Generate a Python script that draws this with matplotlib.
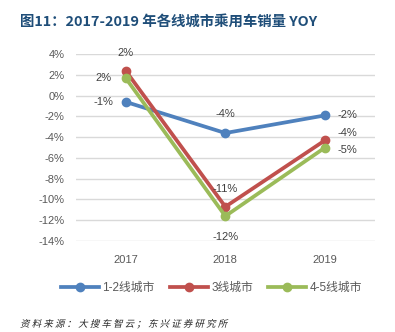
import matplotlib.pyplot as plt
from matplotlib.font_manager import FontProperties
from matplotlib.patches import PathPatch
from matplotlib.textpath import TextPath
from matplotlib.transforms import Affine2D, IdentityTransform

plt.rcParams['font.family'] = ['Liberation Sans', 'Noto Sans CJK SC', 'DejaVu Sans']

years = ['2017', '2018', '2019']
series_names = ['1-2线城市', '3线城市', '4-5线城市']
tier12 = [-0.6, -3.6, -1.9]
tier3 = [2.4, -10.7, -4.3]
tier45 = [1.7, -11.6, -5.0]
y_ticks = [4, 2, 0, -2, -4, -6, -8, -10, -12, -14]
source = '资料来源：大搜车智云；东兴证券研究所'

colors = ['#4F81BD', '#C0504D', '#9BBB59']
# label offsets (points) per series, per year
offsets = [
    [(-16, 0), (0, 14), (16, 0)],
    [(0, 13), (0, 13), (16, 5)],
    [(-16, 0), (0, -15), (16, -2)],
]

fig = plt.figure(figsize=(3.95, 3.32), dpi=100)
ax = fig.add_axes([0.192, 0.274, 0.757, 0.563])

x = list(range(len(years)))
for vals, name, c, offs in zip([tier12, tier3, tier45], series_names, colors, offsets):
    ax.plot(x, vals, color=c, lw=2.7, marker='o', ms=6, label=name, zorder=3)
    for xi, v, (dx, dy) in zip(x, vals, offs):
        ax.annotate(f'{v:.0f}%', (xi, v), xytext=(dx, dy), textcoords='offset points',
                    ha='center', va='center', fontsize=8, color='#404040', zorder=4)

ax.set_xlim(-0.5, 2.5)
ax.set_ylim(-14, 4)
ax.set_yticks(y_ticks)
ax.set_yticklabels([f'{t}%' for t in y_ticks])
ax.set_xticks(x)
ax.set_xticklabels(years)
ax.grid(axis='y', color='#D9D9D9', lw=1)
ax.set_axisbelow(True)
for s in ax.spines.values():
    s.set_visible(False)
ax.tick_params(length=0, labelsize=8, colors='#595959')
ax.tick_params(axis='x', pad=10)
ax.tick_params(axis='y', pad=8)

fig.legend(loc='center', bbox_to_anchor=(0.535, 0.132), ncol=3, frameon=False,
           fontsize=8.5, handlelength=3.2, handletextpad=0.3, columnspacing=1.3,
           labelcolor='#595959')

fig.text(0.05, 0.934, '图11：2017-2019 年各线城市乘用车销量 YOY', fontsize=10.4, fontweight='bold',
         color='#1F4E79', va='center', family=['Noto Sans CJK SC', 'DejaVu Sans'])

# source line: spaced, slanted glyphs (CJK font has no italic)
src_path = TextPath((0, 0), ' '.join(source), size=9.5,
                    prop=FontProperties(family='Noto Sans CJK SC'))
src_tf = Affine2D().skew_deg(14, 0).translate(20, 332 - 327)
fig.add_artist(PathPatch(src_path, transform=src_tf + IdentityTransform(),
                         facecolor='#262626', edgecolor='none'))

fig.savefig('out.png', dpi=100)
